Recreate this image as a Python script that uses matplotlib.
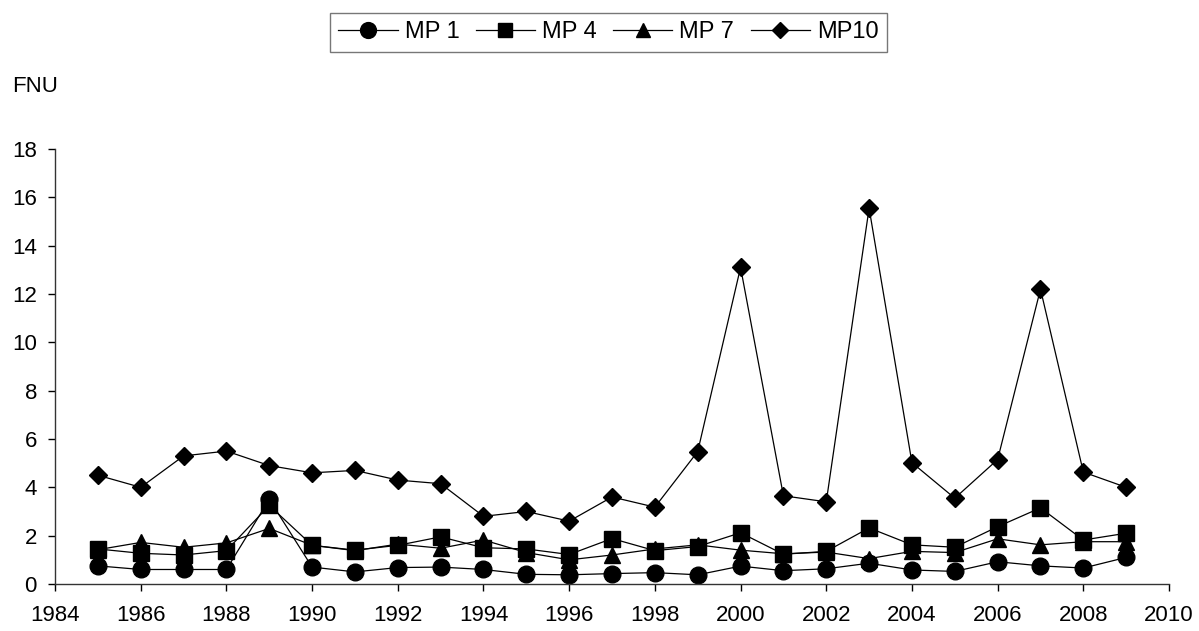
import matplotlib
matplotlib.use("Agg")
import matplotlib.pyplot as plt

plt.rcParams['font.family'] = ['Liberation Sans', 'DejaVu Sans']

years = list(range(1985, 2010))
mp1 = [0.75, 0.6, 0.6, 0.6, 3.5, 0.7, 0.5, 0.68, 0.7, 0.6, 0.4, 0.38, 0.43, 0.47, 0.38,
       0.74, 0.55, 0.63, 0.86, 0.58, 0.52, 0.92, 0.75, 0.66, 1.1]
mp4 = [1.45, 1.27, 1.2, 1.38, 3.25, 1.6, 1.4, 1.6, 1.95, 1.5, 1.45, 1.22, 1.88, 1.38, 1.55,
       2.12, 1.23, 1.35, 2.32, 1.62, 1.52, 2.37, 3.15, 1.82, 2.1]
mp7 = [1.42, 1.72, 1.52, 1.7, 2.3, 1.6, 1.38, 1.65, 1.48, 1.82, 1.3, 1.0, 1.2, 1.45, 1.62,
       1.4, 1.25, 1.32, 1.05, 1.35, 1.3, 1.87, 1.62, 1.75, 1.75]
mp10 = [4.5, 4.0, 5.3, 5.5, 4.9, 4.6, 4.7, 4.3, 4.15, 2.8, 3.0, 2.6, 3.6, 3.18, 5.48,
        13.1, 3.65, 3.4, 15.55, 5.02, 3.55, 5.15, 12.2, 4.63, 4.0]
labels = ["MP 1", "MP 4", "MP 7", "MP10"]
yticks = list(range(0, 20, 2))
xticks = list(range(1984, 2012, 2))

fig = plt.figure(figsize=(11.99, 6.31), dpi=100)
ax = fig.add_axes([0.0459, 0.0745, 0.9291, 0.6894])

lw = 0.9
ax.plot(years, mp1, color='black', lw=lw, marker='o', ms=12, label=labels[0])
ax.plot(years, mp4, color='black', lw=lw, marker='s', ms=11, label=labels[1])
ax.plot(years, mp7, color='black', lw=lw, marker='^', ms=11, label=labels[2])
ax.plot(years, mp10, color='black', lw=lw, marker='D', ms=8.8, label=labels[3])

ax.set_xlim(1984, 2010)
ax.set_ylim(0, 18)
ax.set_xticks(xticks)
ax.set_yticks(yticks)
ax.tick_params(labelsize=16, direction='out', length=5, width=1, colors='black')
ax.tick_params(axis='y', pad=8)
ax.tick_params(axis='x', pad=10)
for s in ['top', 'right']:
    ax.spines[s].set_visible(False)
for s in ['left', 'bottom']:
    ax.spines[s].set_linewidth(1)
    ax.spines[s].set_color('#333333')

fig.text(0.010, 0.863, "FNU", fontsize=16, va='center', ha='left')

leg = fig.legend(loc='center', bbox_to_anchor=(0.5075, 0.9485), ncol=4, fontsize=17,
                 frameon=True, fancybox=False, edgecolor='#555555', handlelength=2.5,
                 handletextpad=0.3, columnspacing=0.7, borderpad=0.35,
                 borderaxespad=0, markerscale=0.95)
leg.get_frame().set_linewidth(1)

fig.savefig("out.png", dpi=100)
